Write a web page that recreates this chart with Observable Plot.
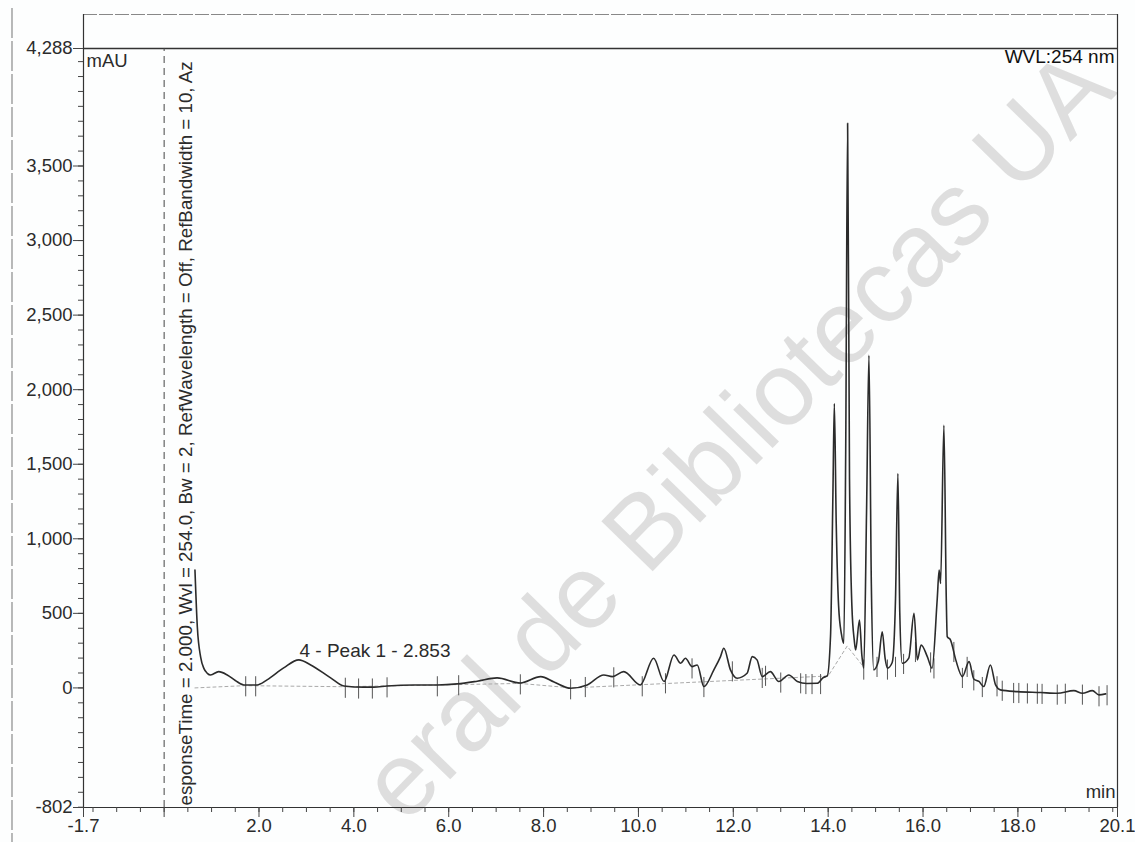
<!DOCTYPE html>
<html>
<head>
<meta charset="utf-8">
<script src="https://cdn.jsdelivr.net/npm/d3@7"></script>
<script src="https://cdn.jsdelivr.net/npm/@observablehq/plot@0.6"></script>
<style>
  html, body { margin: 0; padding: 0; background: #fdfefe; }
  #wrap { position: relative; width: 1135px; height: 842px; overflow: hidden; }
  #watermark { position: absolute; left: 0; top: 0; }
  #chart { position: absolute; left: 0; top: 0; }
  #chart svg { background: transparent !important; }
</style>
</head>
<body>
<div id="wrap">
  <svg id="watermark" width="1135" height="842"></svg>
  <div id="chart"></div>
</div>
<script>
// ---- data ----
const time = [0.65, 0.70, 0.77, 0.84, 0.91, 0.98, 1.15, 1.33, 1.50, 1.68, 1.96, 2.17, 2.52, 2.84, 3.09, 3.51, 3.79,
  4.21, 4.42, 4.70, 5.26, 5.76, 6.18, 6.60, 7.02, 7.51, 7.94, 8.22, 8.57, 8.92, 9.27, 9.45, 9.69, 10.04, 10.32,
  10.54, 10.75, 10.89, 10.99, 11.13, 11.24, 11.38, 11.59, 11.73, 11.80, 11.94, 12.08, 12.29, 12.40, 12.50, 12.61,
  12.78, 12.96, 13.17, 13.35, 13.55, 13.77, 13.90, 13.98, 14.05, 14.10, 14.13, 14.17, 14.22, 14.28, 14.33, 14.37,
  14.41, 14.45, 14.50, 14.55, 14.58, 14.66, 14.71, 14.75, 14.81, 14.86, 14.91, 14.96, 15.06, 15.14, 15.20, 15.25,
  15.35, 15.42, 15.47, 15.51, 15.56, 15.70, 15.81, 15.88, 15.96, 16.09, 16.19, 16.30, 16.34, 16.37, 16.44, 16.49,
  16.51, 16.58, 16.69, 16.83, 16.97, 17.07, 17.18, 17.28, 17.42, 17.53, 17.63, 17.99, 18.48, 18.83, 19.18, 19.36,
  19.57, 19.71, 19.85];
const signal = [790, 408, 207, 129, 98, 87, 109, 87, 50, 20, 20, 54, 134, 188, 154, 67, 13,
  5, 5, 13, 20, 20, 27, 45, 67, 33, 76, 40, -2, 20, 87, 76, 109, 20, 199,
  43, 221, 165, 199, 143, 154, 9, 121, 210, 266, 121, 65, 98, 210, 188, 76,
  109, 43, 87, 43, 30, 31, 70, 80, 350, 1300, 1907, 1100, 550, 360, 299, 1600,
  3787, 1400, 550, 320, 254, 455, 220, 132, 1200, 2230, 700, 121, 180, 377, 200, 132,
  170, 600, 1438, 500, 165, 200, 500, 188, 288, 210, 132, 600, 790, 700, 1761, 600,
  344, 321, 188, 76, 176, 60, 43, 9, 154, 20, -13, -25, -31, -36, -18, -36,
  -18, -47, -40];

// peak start / end delimiters drawn on the trace
const markerTime = [1.72, 1.93, 3.82, 4.10, 4.39, 4.70, 5.76, 6.21, 7.51, 8.57, 8.88, 9.48, 10.08, 10.57, 11.13,
  11.38, 11.98, 12.61, 12.68, 13.00, 13.42, 13.53, 13.66, 13.84, 14.75, 15.03, 15.25, 15.42, 15.59, 15.84, 16.16,
  16.23, 16.65, 16.83, 16.93, 17.07, 17.25, 17.56, 17.67, 17.91, 18.02, 18.20, 18.41, 18.51, 18.83, 19.00, 19.36,
  19.71, 19.88];
const markerLevel = [20, 20, 10, 5, 5, 13, 20, 27, 33, 0, 15, 80, 20, 40, 140,
  15, 120, 76, 90, 45, 40, 35, 35, 35, 132, 150, 132, 150, 170, 250, 180,
  140, 250, 76, 150, 60, 15, 20, -10, -25, -25, -28, -30, -31, -36, -30, -36,
  -47, -40];

// integration baseline (dotted)
const baseTime = [0.65, 1.7, 3.8, 7.5, 8.6, 14.0, 14.4, 14.75];
const baseLevel = [0, 15, 8, 30, 0, 80, 280, 140];

// axes
const xTicks = [-1.7, 2, 4, 6, 8, 10, 12, 14, 16, 18, 20.1];
const xMinorTicks = d3.range(-1.5, 20.01, 0.5);
const yTicks = [-802, 0, 500, 1000, 1500, 2000, 2500, 3000, 3500, 4288];
const yMinorTicks = d3.range(-800, 4201, 100);
const xMin = -1.7, xMax = 20.1, yMin = -802, yMax = 4288, yFrameTop = 4516;

const injectTime = 0;
const peakLabel = [{t: 2.853, v: 188, text: "4 - Peak 1 - 2.853"}];
const methodText = "esponseTime = 2.000, Wvl = 254.0, Bw = 2, RefWavelength = Off, RefBandwidth = 10, Az";
const yUnit = "mAU", xUnit = "min", channelText = "WVL:254 nm";
const watermarkText = "eral de Bibliotecas UA";

// ---- build ----
const trace = time.map((t, i) => ({t, v: signal[i]}));
const markers = markerTime.map((t, i) => ({t, v: markerLevel[i]}));
const baseline = baseTime.map((t, i) => ({t, v: baseLevel[i]}));

const ink = "#2b2b2b";
const font = "'Liberation Sans', Arial, Helvetica, sans-serif";
const comma = d3.format(",");
const yFormat = d => (d < 0 ? "-" + comma(-d) : comma(d));

const chart = Plot.plot({
  width: 1135,
  height: 842,
  marginLeft: 83,
  marginRight: 18,
  marginTop: 14,
  marginBottom: 35,
  style: {fontFamily: font, fontSize: "18.5px", color: ink, background: "transparent"},
  x: {domain: [xMin, xMax], axis: null, label: null},
  y: {domain: [yMin, yFrameTop], axis: null, label: null},
  marks: [
    // frame
    Plot.ruleY([yFrameTop], {stroke: "#888", strokeWidth: 1, strokeDasharray: "14,2"}),
    Plot.ruleY([yMax], {stroke: "#333", strokeWidth: 1.4}),
    Plot.ruleX([xMin, xMax], {stroke: "#333", strokeWidth: 1.2}),
    Plot.ruleY([yMin], {stroke: "#333", strokeWidth: 1.2}),
    // injection dashed line
    Plot.ruleX([injectTime], {y1: yMin, y2: yMax, stroke: "#444", strokeDasharray: "7,5", strokeWidth: 1}),
    // axes
    Plot.axisY(yMinorTicks, {tickSize: 5, tickFormat: () => "", stroke: "#444", label: null}),
    Plot.axisY(yTicks, {tickSize: 10, tickPadding: 1, tickFormat: yFormat, stroke: "#444", fill: ink, label: null}),
    Plot.axisX(xMinorTicks, {tickSize: 5, tickFormat: () => "", stroke: "#444", label: null}),
    Plot.axisX([injectTime], {tickSize: 10, tickFormat: () => "", stroke: "#444", label: null}),
    Plot.axisX(xTicks, {tickSize: 10, tickPadding: 1, tickFormat: d => d.toFixed(1), stroke: "#444", fill: ink, label: null}),
    // baseline + trace
    Plot.line(baseline, {x: "t", y: "v", stroke: "#aaa", strokeDasharray: "3,3", strokeWidth: 1}),
    Plot.ruleX(markers, {x: "t", y1: d => d.v + 55, y2: d => d.v - 80, stroke: "#555", strokeWidth: 1}),
    Plot.line(trace, {x: "t", y: "v", stroke: ink, strokeWidth: 1.6, curve: "monotone-x"}),
    // texts
    Plot.text(peakLabel, {x: "t", y: "v", text: "text", textAnchor: "start", dx: 0, dy: -9, fill: ink, fontSize: 19}),
    Plot.text([yUnit], {x: xMin, y: yMax, text: d => d, textAnchor: "start", dx: 3, dy: 13, fill: ink, fontSize: 18.5}),
    Plot.text([channelText], {x: xMax, y: yMax, text: d => d, textAnchor: "end", dx: -3, dy: 8, fill: "#111", fontSize: 19}),
    Plot.text([xUnit], {x: xMax, y: yMin, text: d => d, textAnchor: "end", dx: -2, dy: -15, fill: ink, fontSize: 18.5}),
    Plot.text([methodText], {x: injectTime, y: yMin, text: d => d, rotate: -90, textAnchor: "start", dx: 22, dy: -2, fill: ink, fontSize: 18.8})
  ]
});
document.getElementById("chart").appendChild(chart);

// faint background decoration: scanned page edge and watermark
const wm = d3.select("#watermark");
wm.append("line")
  .attr("x1", 12).attr("x2", 12).attr("y1", 8).attr("y2", 842)
  .attr("stroke", "#8a8a8a").attr("stroke-width", 1.2).attr("stroke-dasharray", "30,3");
wm.append("text")
  .attr("transform", "translate(405,826) rotate(-45.8)")
  .attr("font-family", font)
  .attr("font-size", 104)
  .attr("fill", "#d8d8d8")
  .attr("fill-opacity", 0.85)
  .text(watermarkText);
</script>
</body>
</html>
